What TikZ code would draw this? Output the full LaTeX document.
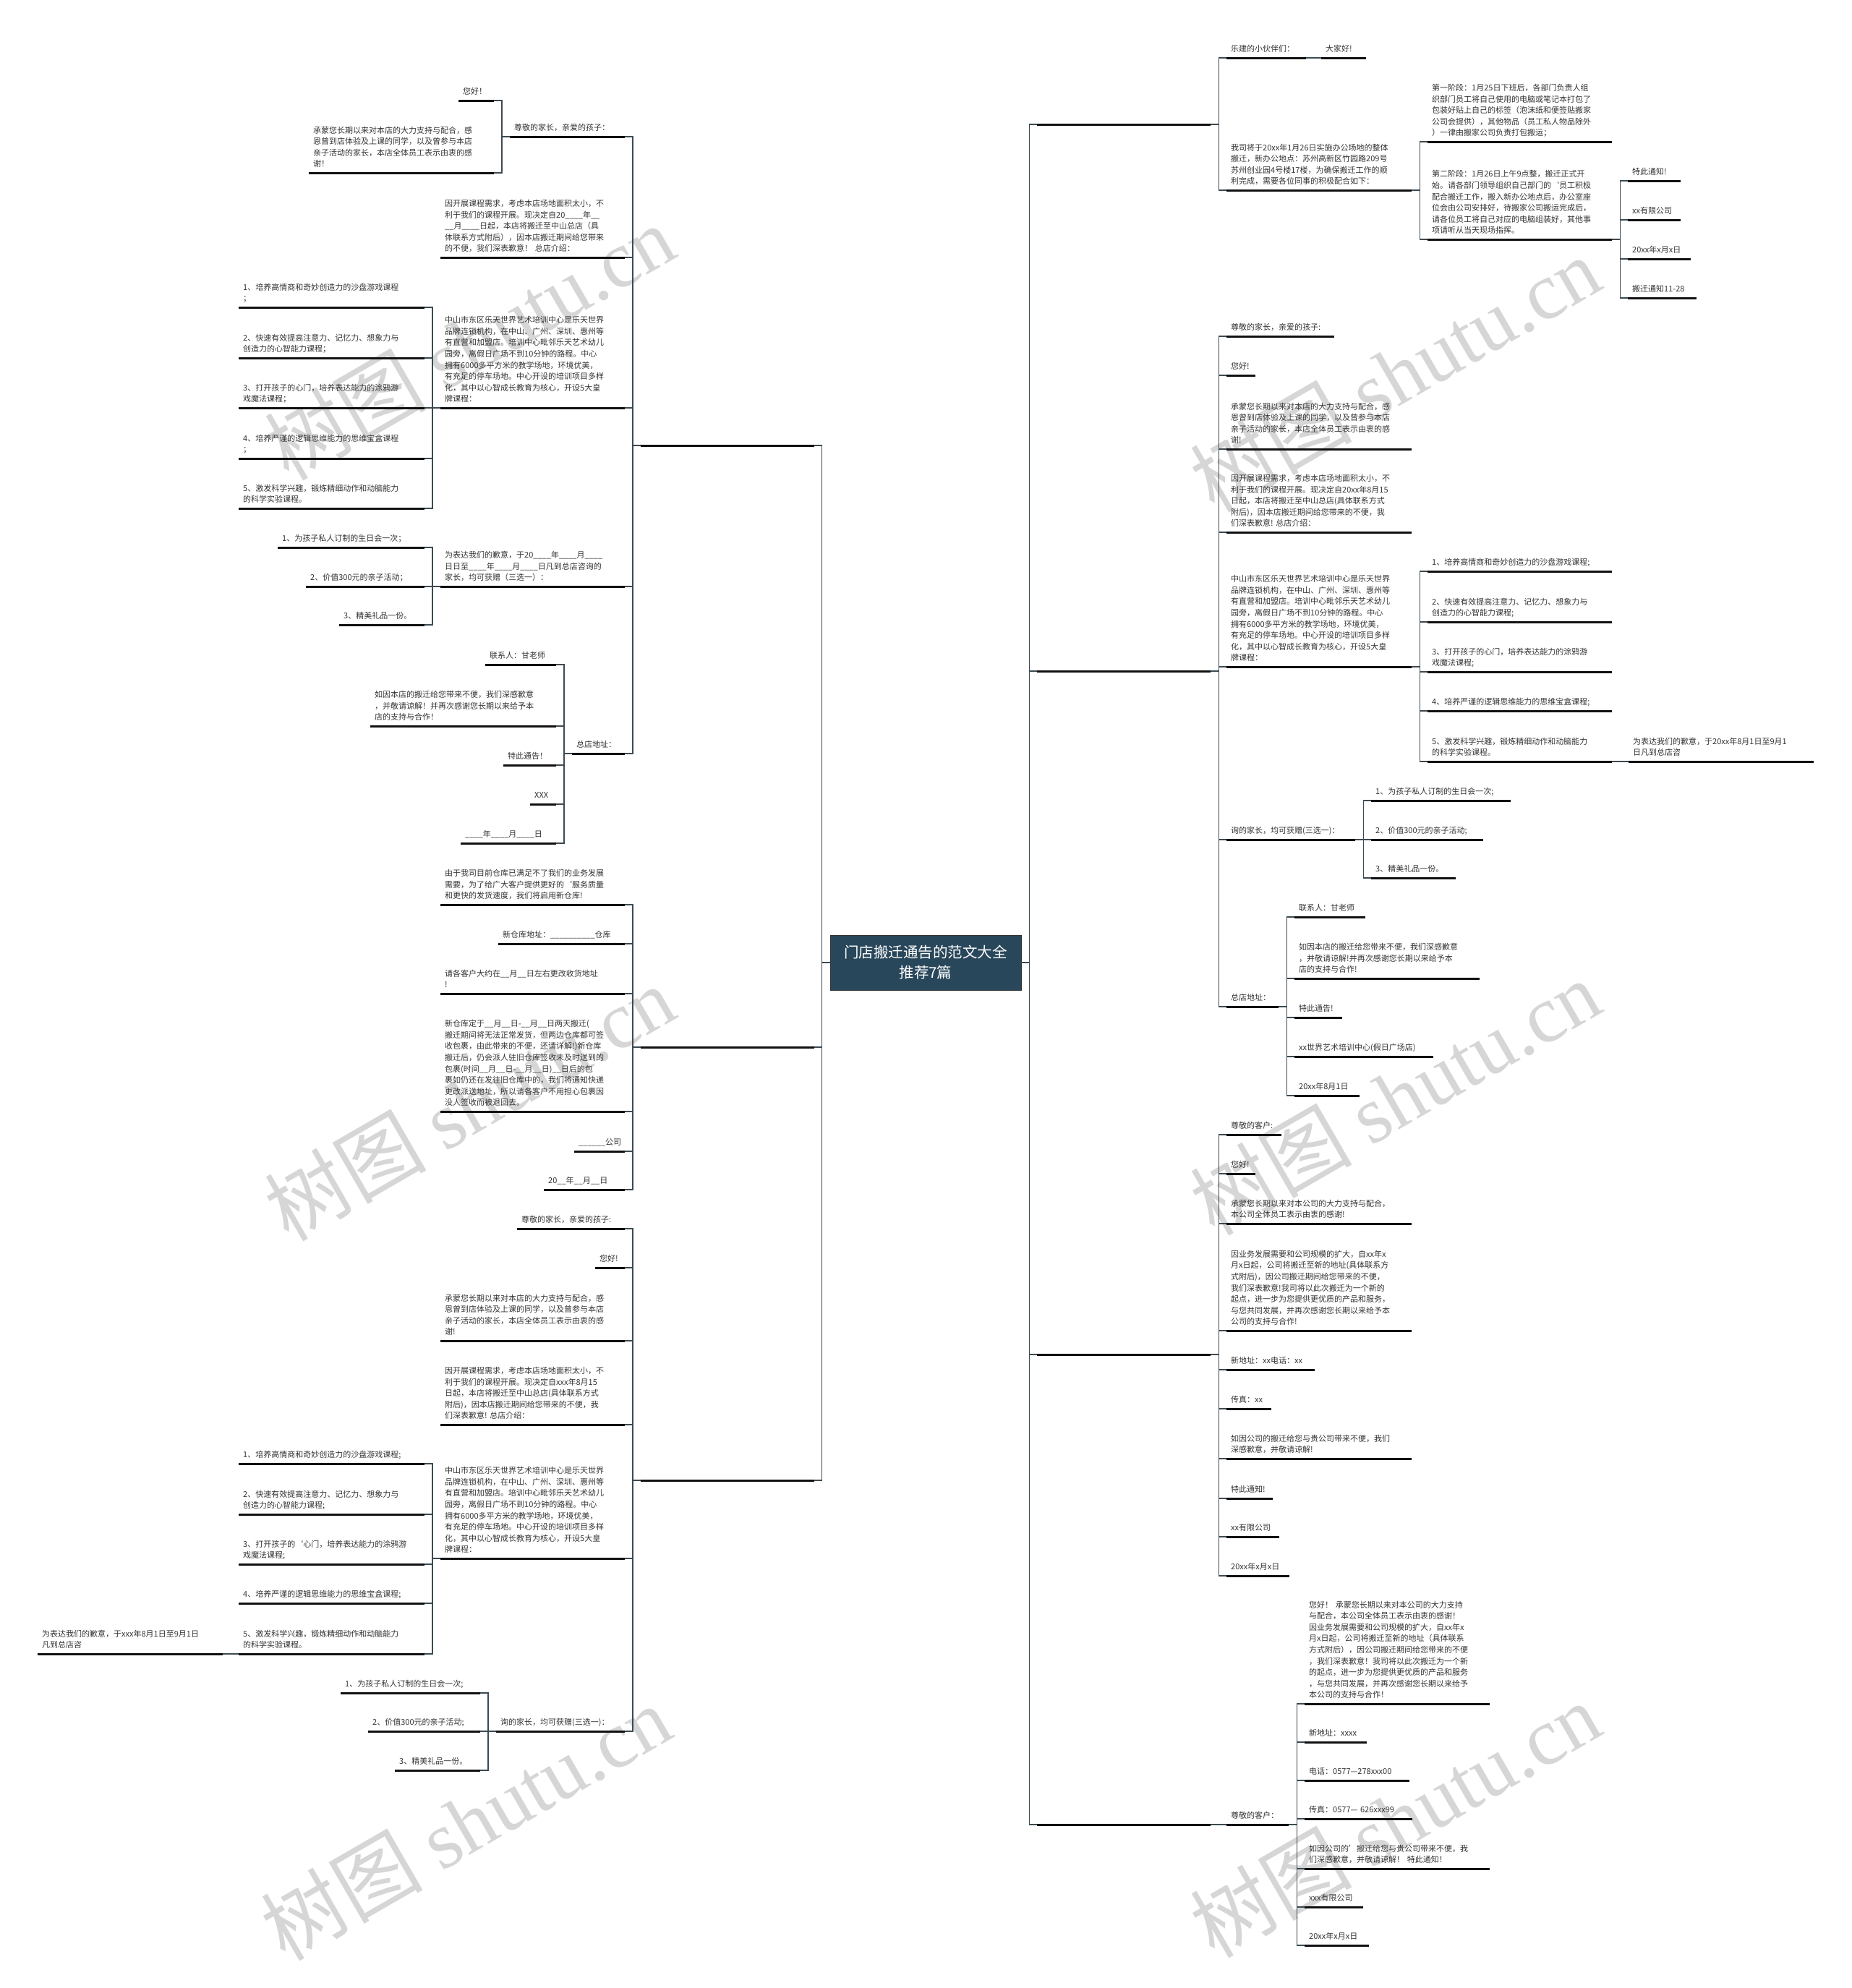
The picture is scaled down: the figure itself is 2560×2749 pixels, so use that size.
\documentclass[tikz,border=0pt]{standalone}
\usepackage{fontspec}
\setmainfont{Noto Sans CJK SC}
\newfontfamily\wmlat{Liberation Serif}
\definecolor{txt}{HTML}{333333}
\definecolor{ulc}{HTML}{111111}
\definecolor{cnc}{HTML}{3C4A52}
\definecolor{ctrfill}{HTML}{29475A}
\definecolor{wm}{HTML}{D6D6D6}
\tikzset{
 itm/.style={anchor=south west, inner xsep=6pt, inner ysep=0pt, align=left, text=txt, font=\fontsize{11pt}{15.6pt}\selectfont},
 ul/.style={line width=3pt, ulc},
 cn/.style={line width=1.2pt, cnc},
 ctr/.style={fill=ctrfill, draw=black!80, line width=0.8pt, text=white, align=center, minimum width=264pt, minimum height=76pt, inner sep=0pt, font=\fontsize{20.5pt}{28pt}\selectfont},
 wmk/.style={text=wm, rotate=30, font=\fontsize{112pt}{112pt}\selectfont, inner sep=0pt}
}
\newcommand\lastrule{\rule[-8pt]{0pt}{8pt}}
\newcommand\mitem[5]{\pgfmathsetmacro\tw{#4-12}\node[itm,text width=\tw pt] (#1) at (#2,#3) {#5\lastrule}; \draw[ul] (#1.south west) -- (#1.south east);}
\newcommand\conL[2]{\draw[cn] (#1.south west) -- ++(-11,0) |- (#2.south east);}
\newcommand\conR[2]{\draw[cn] (#1.south east) -- ++(11,0) |- (#2.south west);}
\begin{document}
\begin{tikzpicture}[x=1pt,y=-1pt]
\fill[white] (0,0) rectangle (2560,2749);
\useasboundingbox (0,0) rectangle (2560,2749);
% watermarks
\node[wmk] (w1) at (649,473) {树图 {\wmlat shutu.cn}};
\node[wmk] (w2) at (649,1525) {树图 {\wmlat shutu.cn}};
\node[wmk] (w3) at (644,2520) {树图 {\wmlat shutu.cn}};
\node[wmk] (w4) at (1929,517) {树图 {\wmlat shutu.cn}};
\node[wmk] (w5) at (1929,1517) {树图 {\wmlat shutu.cn}};
\node[wmk] (w6) at (1929,2516) {树图 {\wmlat shutu.cn}};
% center
\node[ctr] (ctr) at (1280,1331) {门店搬迁通告的范文大全\\推荐7篇};
% ================= LEFT =================
\mitem{LA}{886}{616}{240}{}
\mitem{LB}{886}{1448}{240}{}
\mitem{LC}{886}{2047}{240}{}
% branch LA
\mitem{a1}{705}{189}{159}{尊敬的家长，亲爱的孩子：}
\mitem{a1a}{634}{139}{49}{您好！}
\mitem{a1b}{427}{239}{256}{承蒙您长期以来对本店的大力支持与配合，感\\恩曾到店体验及上课的同学，以及曾参与本店\\亲子活动的家长，本店全体员工表示由衷的感\\谢！}
\mitem{a2}{609}{356}{255}{因开展课程需求，考虑本店场地面积太小，不\\利于我们的课程开展。现决定自20\_\_\_\_年\_\_\\\_\_月\_\_\_\_日起，本店将搬迁至中山总店（具\\体联系方式附后），因本店搬迁期间给您带来\\的不便，我们深表歉意！~总店介绍：}
\mitem{a3}{609}{564}{255}{中山市东区乐天世界艺术培训中心是乐天世界\\品牌连锁机构，在中山、广州、深圳、惠州等\\有直营和加盟店。培训中心毗邻乐天艺术幼儿\\园旁，离假日广场不到10分钟的路程。中心\\拥有6000多平方米的教学场地，环境优美，\\有充足的停车场地。中心开设的培训项目多样\\化，其中以心智成长教育为核心，开设5大皇\\牌课程：}
\mitem{a3a}{330}{425}{257}{1、培养高情商和奇妙创造力的沙盘游戏课程\\；}
\mitem{a3b}{330}{495}{257}{2、快速有效提高注意力、记忆力、想象力与\\创造力的心智能力课程；}
\mitem{a3c}{330}{564}{257}{3、打开孩子的心门，培养表达能力的涂鸦游\\戏魔法课程；}
\mitem{a3d}{330}{634}{257}{4、培养严谨的逻辑思维能力的思维宝盒课程\\；}
\mitem{a3e}{330}{703}{257}{5、激发科学兴趣，锻炼精细动作和动脑能力\\的科学实验课程。}
\mitem{a4}{609}{811}{255}{为表达我们的歉意，于20\_\_\_\_年\_\_\_\_月\_\_\_\_\\日日至\_\_\_\_年\_\_\_\_月\_\_\_\_日凡到总店咨询的\\家长，均可获赠（三选一）：}
\mitem{a4a}{384}{757}{203}{1、为孩子私人订制的生日会一次；}
\mitem{a4b}{423}{811}{164}{2、价值300元的亲子活动；}
\mitem{a4c}{469}{864}{118}{3、精美礼品一份。}
\mitem{a5}{791}{1042}{73}{总店地址：}
\mitem{a5a}{671}{919}{98}{联系人：甘老师}
\mitem{a5b}{512}{1004}{257}{如因本店的搬迁给您带来不便，我们深感歉意\\，并敬请谅解！并再次感谢您长期以来给予本\\店的支持与合作！}
\mitem{a5c}{696}{1058}{73}{特此通告！}
\mitem{a5d}{733}{1112}{36}{XXX}
\mitem{a5e}{637}{1166}{132}{\_\_\_\_年\_\_\_\_月\_\_\_\_日}
% branch LB
\mitem{b1}{609}{1251}{255}{由于我司目前仓库已满足不了我们的业务发展\\需要，为了给广大客户提供更好的`服务质量\\和更快的发货速度，我们将启用新仓库!}
\mitem{b2}{689}{1305}{175}{新仓库地址：\_\_\_\_\_\_\_\_\_\_仓库}
\mitem{b3}{609}{1374}{255}{请各客户大约在\_\_月\_\_日左右更改收货地址\\!}
\mitem{b4}{609}{1537}{255}{新仓库定于\_\_月\_\_日-\_\_月\_\_日两天搬迁(\\搬迁期间将无法正常发货，但两边仓库都可签\\收包裹，由此带来的不便，还请详解!)新仓库\\搬迁后，仍会派人驻旧仓库签收未及时送到的\\包裹(时间\_\_月\_\_日-\_\_月\_\_日)\_\_日后的包\\裹如仍还在发往旧仓库中的，我们将通知快递\\更改派送地址，所以请各客户不用担心包裹因\\没人签收而被退回去。}
\mitem{b5}{794}{1592}{70}{\_\_\_\_\_\_公司}
\mitem{b6}{752}{1645}{112}{20\_\_年\_\_月\_\_日}
% branch LC
\mitem{c1}{715}{1699}{149}{尊敬的家长，亲爱的孩子:}
\mitem{c2}{823}{1753}{41}{您好!}
\mitem{c3}{609}{1854}{255}{承蒙您长期以来对本店的大力支持与配合，感\\恩曾到店体验及上课的同学，以及曾参与本店\\亲子活动的家长，本店全体员工表示由衷的感\\谢!}
\mitem{c4}{609}{1970}{255}{因开展课程需求，考虑本店场地面积太小，不\\利于我们的课程开展。现决定自xxx年8月15\\日起，本店将搬迁至中山总店(具体联系方式\\附后)，因本店搬迁期间给您带来的不便，我\\们深表歉意!~总店介绍：}
\mitem{c5}{609}{2155}{255}{中山市东区乐天世界艺术培训中心是乐天世界\\品牌连锁机构，在中山、广州、深圳、惠州等\\有直营和加盟店。培训中心毗邻乐天艺术幼儿\\园旁，离假日广场不到10分钟的路程。中心\\拥有6000多平方米的教学场地，环境优美，\\有充足的停车场地。中心开设的培训项目多样\\化，其中以心智成长教育为核心，开设5大皇\\牌课程：}
\mitem{c5a}{330}{2024}{257}{1、培养高情商和奇妙创造力的沙盘游戏课程;}
\mitem{c5b}{330}{2094}{257}{2、快速有效提高注意力、记忆力、想象力与\\创造力的心智能力课程;}
\mitem{c5c}{330}{2163}{257}{3、打开孩子的`心门，培养表达能力的涂鸦游\\戏魔法课程;}
\mitem{c5d}{330}{2217}{257}{4、培养严谨的逻辑思维能力的思维宝盒课程;}
\mitem{c5e}{330}{2287}{257}{5、激发科学兴趣，锻炼精细动作和动脑能力\\的科学实验课程。}
\mitem{c5x}{52}{2287}{256}{为表达我们的歉意，于xxx年8月1日至9月1日\\凡到总店咨}
\mitem{c6}{686}{2394}{178}{询的家长，均可获赠(三选一)：}
\mitem{c6a}{471}{2341}{193}{1、为孩子私人订制的生日会一次;}
\mitem{c6b}{509}{2394}{155}{2、价值300元的亲子活动;}
\mitem{c6c}{546}{2448}{118}{3、精美礼品一份。}
% ================= RIGHT =================
\mitem{RA}{1434}{172}{240}{}
\mitem{RB}{1434}{928}{240}{}
\mitem{RC}{1434}{1873}{240}{}
\mitem{RD}{1434}{2523}{240}{}
% branch RA
\mitem{r1}{1696}{80}{110}{乐建的小伙伴们：}
\mitem{r1a}{1827}{80}{62}{大家好!}
\mitem{r2}{1696}{263}{256}{我司将于20xx年1月26日实施办公场地的整体\\搬迁，新办公地点：苏州高新区竹园路209号\\苏州创业园4号楼17楼，为确保搬迁工作的顺\\利完成，需要各位同事的积极配合如下：}
\mitem{r2a}{1974}{196}{255}{第一阶段：1月25日下班后，各部门负责人组\\织部门员工将自己使用的电脑或笔记本打包了\\包装好贴上自己的标签（泡沫纸和便签贴搬家\\公司会提供），其他物品（员工私人物品除外\\）一律由搬家公司负责打包搬运；}
\mitem{r2b}{1974}{331}{255}{第二阶段：1月26日上午9点整，搬迁正式开\\始。请各部门领导组织自己部门的`员工积极\\配合搬迁工作，搬入新办公地点后，办公室座\\位会由公司安排好，待搬家公司搬运完成后，\\请各位员工将自己对应的电脑组装好，其他事\\项请听从当天现场指挥。}
\mitem{r2ba}{2251}{250}{73}{特此通知!}
\mitem{r2bb}{2251}{304}{73}{xx有限公司}
\mitem{r2bc}{2251}{358}{87}{20xx年x月x日}
\mitem{r2bd}{2251}{412}{95}{搬迁通知11-28}
% branch RB
\mitem{s1}{1696}{465}{149}{尊敬的家长，亲爱的孩子:}
\mitem{s2}{1696}{519}{40}{您好!}
\mitem{s3}{1696}{621}{256}{承蒙您长期以来对本店的大力支持与配合，感\\恩曾到店体验及上课的同学，以及曾参与本店\\亲子活动的家长，本店全体员工表示由衷的感\\谢!}
\mitem{s4}{1696}{736}{256}{因开展课程需求，考虑本店场地面积太小，不\\利于我们的课程开展。现决定自20xx年8月15\\日起，本店将搬迁至中山总店(具体联系方式\\附后)，因本店搬迁期间给您带来的不便，我\\们深表歉意!~总店介绍：}
\mitem{s5}{1696}{922}{256}{中山市东区乐天世界艺术培训中心是乐天世界\\品牌连锁机构，在中山、广州、深圳、惠州等\\有直营和加盟店。培训中心毗邻乐天艺术幼儿\\园旁，离假日广场不到10分钟的路程。中心\\拥有6000多平方米的教学场地，环境优美，\\有充足的停车场地。中心开设的培训项目多样\\化，其中以心智成长教育为核心，开设5大皇\\牌课程：}
\mitem{s5a}{1974}{790}{255}{1、培养高情商和奇妙创造力的沙盘游戏课程;}
\mitem{s5b}{1974}{860}{255}{2、快速有效提高注意力、记忆力、想象力与\\创造力的心智能力课程;}
\mitem{s5c}{1974}{929}{255}{3、打开孩子的心门，培养表达能力的涂鸦游\\戏魔法课程;}
\mitem{s5d}{1974}{983}{255}{4、培养严谨的逻辑思维能力的思维宝盒课程;}
\mitem{s5e}{1974}{1053}{255}{5、激发科学兴趣，锻炼精细动作和动脑能力\\的科学实验课程。}
\mitem{s5x}{2252}{1053}{256}{为表达我们的歉意，于20xx年8月1日至9月1\\日凡到总店咨}
\mitem{s6}{1696}{1161}{178}{询的家长，均可获赠(三选一)：}
\mitem{s6a}{1896}{1107}{193}{1、为孩子私人订制的生日会一次;}
\mitem{s6b}{1896}{1161}{155}{2、价值300元的亲子活动;}
\mitem{s6c}{1896}{1214}{117}{3、精美礼品一份。}
\mitem{s7}{1696}{1392}{72}{总店地址：}
\mitem{s7a}{1790}{1268}{98}{联系人：甘老师}
\mitem{s7b}{1790}{1353}{256}{如因本店的搬迁给您带来不便，我们深感歉意\\，并敬请谅解!并再次感谢您长期以来给予本\\店的支持与合作!}
\mitem{s7c}{1790}{1407}{66}{特此通告!}
\mitem{s7d}{1790}{1461}{192}{xx世界艺术培训中心(假日广场店)}
\mitem{s7e}{1790}{1515}{90}{20xx年8月1日}
% branch RC
\mitem{t1}{1696}{1569}{76}{尊敬的客户:}
\mitem{t2}{1696}{1623}{40}{您好!}
\mitem{t3}{1696}{1692}{256}{承蒙您长期以来对本公司的大力支持与配合，\\本公司全体员工表示由衷的感谢!}
\mitem{t4}{1696}{1840}{256}{因业务发展需要和公司规模的扩大，自xx年x\\月x日起，公司将搬迁至新的地址(具体联系方\\式附后)，因公司搬迁期间给您带来的不便，\\我们深表歉意!我司将以此次搬迁为一个新的\\起点，进一步为您提供更优质的产品和服务，\\与您共同发展，并再次感谢您长期以来给予本\\公司的支持与合作!}
\mitem{t5}{1696}{1894}{122}{新地址：xx电话：xx}
\mitem{t6}{1696}{1948}{62}{传真：xx}
\mitem{t7}{1696}{2017}{256}{如因公司的搬迁给您与贵公司带来不便，我们\\深感歉意，并敬请谅解!}
\mitem{t8}{1696}{2072}{64}{特此通知!}
\mitem{t9}{1696}{2125}{73}{xx有限公司}
\mitem{t10}{1696}{2179}{87}{20xx年x月x日}
% branch RD
\mitem{u0}{1696}{2523}{86}{尊敬的客户：}
\mitem{u1}{1804}{2356}{256}{您好！~承蒙您长期以来对本公司的大力支持\\与配合，本公司全体员工表示由衷的感谢！\\因业务发展需要和公司规模的扩大，自xx年x\\月x日起，公司将搬迁至新的地址（具体联系\\方式附后），因公司搬迁期间给您带来的不便\\，我们深表歉意！我司将以此次搬迁为一个新\\的起点，进一步为您提供更优质的产品和服务\\，与您共同发展，并再次感谢您长期以来给予\\本公司的支持与合作！}
\mitem{u2}{1804}{2409}{86}{新地址：xxxx}
\mitem{u3}{1804}{2462}{145}{电话：0577—278xxx00}
\mitem{u4}{1804}{2515}{149}{传真：0577—~626xxx99}
\mitem{u5}{1804}{2584}{256}{如因公司的'搬迁给您与贵公司带来不便，我\\们深感歉意，并敬请谅解！~特此通知！}
\mitem{u6}{1804}{2637}{81}{xxx有限公司}
\mitem{u7}{1804}{2690}{89}{20xx年x月x日}
% ================= CONNECTORS =================
\foreach \n in {LA,LB,LC} {\draw[cn] (ctr.west) -- ++(-11,0) |- (\n.south east);}
\foreach \n in {RA,RB,RC,RD} {\draw[cn] (ctr.east) -- ++(11,0) |- (\n.south west);}
\foreach \c in {a1,a2,a3,a4,a5} {\conL{LA}{\c}}
\foreach \c in {a1a,a1b} {\conL{a1}{\c}}
\foreach \c in {a3a,a3b,a3c,a3d,a3e} {\conL{a3}{\c}}
\foreach \c in {a4a,a4b,a4c} {\conL{a4}{\c}}
\foreach \c in {a5a,a5b,a5c,a5d,a5e} {\conL{a5}{\c}}
\foreach \c in {b1,b2,b3,b4,b5,b6} {\conL{LB}{\c}}
\foreach \c in {c1,c2,c3,c4,c5,c6} {\conL{LC}{\c}}
\foreach \c in {c5a,c5b,c5c,c5d,c5e} {\conL{c5}{\c}}
\draw[cn] (c5e.south west) -- (c5x.south east);
\foreach \c in {c6a,c6b,c6c} {\conL{c6}{\c}}
\foreach \c in {r1,r2} {\conR{RA}{\c}}
\draw[cn] (r1.south east) -- (r1a.south west);
\foreach \c in {r2a,r2b} {\conR{r2}{\c}}
\foreach \c in {r2ba,r2bb,r2bc,r2bd} {\conR{r2b}{\c}}
\foreach \c in {s1,s2,s3,s4,s5,s6,s7} {\conR{RB}{\c}}
\foreach \c in {s5a,s5b,s5c,s5d,s5e} {\conR{s5}{\c}}
\draw[cn] (s5e.south east) -- (s5x.south west);
\foreach \c in {s6a,s6b,s6c} {\conR{s6}{\c}}
\foreach \c in {s7a,s7b,s7c,s7d,s7e} {\conR{s7}{\c}}
\foreach \c in {t1,t2,t3,t4,t5,t6,t7,t8,t9,t10} {\conR{RC}{\c}}
\draw[cn] (RD.south east) -- (u0.south west);
\foreach \c in {u1,u2,u3,u4,u5,u6,u7} {\conR{u0}{\c}}
\end{tikzpicture}
\end{document}
